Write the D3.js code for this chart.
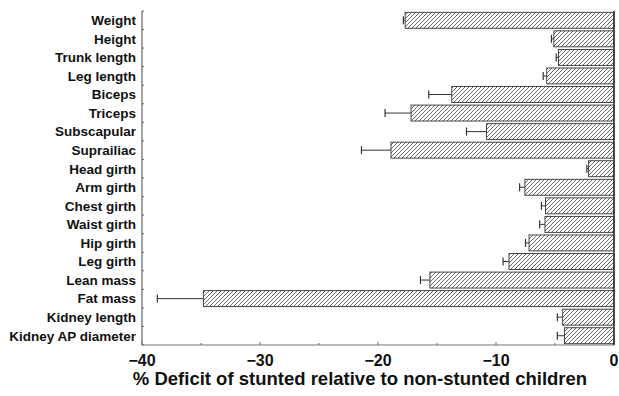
<!DOCTYPE html>
<html>
<head>
<meta charset="utf-8">
<script src="https://cdn.jsdelivr.net/npm/d3@7"></script>
<style>
  body { margin: 0; background: #fff; }
  svg text { font-family: "Liberation Sans", Arial, sans-serif; font-weight: bold; fill: #111; }
</style>
</head>
<body>
<div id="chart"></div>
<script>
var categories = ["Weight", "Height", "Trunk length", "Leg length", "Biceps", "Triceps",
  "Subscapular", "Suprailiac", "Head girth", "Arm girth", "Chest girth", "Waist girth",
  "Hip girth", "Leg girth", "Lean mass", "Fat mass", "Kidney length", "Kidney AP diameter"];
var deficit = [-17.7, -5.1, -4.7, -5.7, -13.75, -17.2, -10.8, -18.9, -2.15, -7.55, -5.8, -5.85,
  -7.2, -8.9, -15.6, -34.8, -4.35, -4.2];
var errorEnd = [-17.85, -5.3, -4.9, -6.0, -15.7, -19.4, -12.5, -21.4, -2.3, -8.0, -6.15, -6.3,
  -7.5, -9.4, -16.4, -38.7, -4.8, -4.8];
var xTicks = [-40, -30, -20, -10, 0];
var xMinorTicks = [-35, -25, -15, -5];
var xTitle = "% Deficit of stunted relative to non-stunted children";

function drawChart(){
  var width = 619, height = 396;
  var left = 142, right = 614, top = 11, bottom = 345;

  var svg = d3.select('#chart').append('svg').attr('width', width).attr('height', height);

  // diagonal hatch
  var defs = svg.append('defs');
  defs.append('pattern').attr('id', 'hatch').attr('patternUnits', 'userSpaceOnUse')
    .attr('width', 4).attr('height', 4)
    .append('path').attr('d', 'M-1,1 l2,-2 M0,4 l4,-4 M3,5 l2,-2')
    .attr('stroke', '#444').attr('stroke-width', 0.8);

  var x = d3.scaleLinear().domain([-40, 0]).range([left, right]);
  var y = d3.scaleBand().domain(categories).range([top, bottom]).paddingInner(0.14).paddingOuter(0.07);

  // left axis line with small ticks at category boundaries
  svg.append('line').attr('x1', left).attr('x2', left).attr('y1', top).attr('y2', bottom)
    .attr('stroke', '#666').attr('stroke-width', 1.2);
  var bounds = d3.range(categories.length + 1).map(function(i){ return top + i * (bottom - top) / categories.length; });
  svg.selectAll('.ytick').data(bounds).enter().append('line').attr('class', 'ytick')
    .attr('x1', left).attr('x2', left + 2).attr('y1', function(d){ return d; }).attr('y2', function(d){ return d; })
    .attr('stroke', '#666');

  // bottom axis
  svg.append('line').attr('x1', left).attr('x2', right).attr('y1', bottom).attr('y2', bottom)
    .attr('stroke', '#777').attr('stroke-width', 1.2);
  svg.selectAll('.xminor').data(xMinorTicks).enter().append('line').attr('class', 'xminor')
    .attr('x1', function(d){ return x(d); }).attr('x2', function(d){ return x(d); })
    .attr('y1', bottom).attr('y2', bottom - 2).attr('stroke', '#666');
  svg.selectAll('.xmajor').data(xTicks).enter().append('line').attr('class', 'xmajor')
    .attr('x1', function(d){ return x(d); }).attr('x2', function(d){ return x(d); })
    .attr('y1', bottom).attr('y2', bottom - 3).attr('stroke', '#666');
  svg.selectAll('.xlabel').data(xTicks).enter().append('text').attr('class', 'xlabel')
    .attr('x', function(d){ return x(d); }).attr('y', 366)
    .attr('text-anchor', 'middle').style('font-size', '16px')
    .text(function(d){ return d < 0 ? '\u2212' + Math.abs(d) : d; });

  // bars
  svg.selectAll('.bar').data(deficit).enter().append('rect').attr('class', 'bar')
    .attr('x', function(d){ return x(d); })
    .attr('y', function(d, i){ return y(categories[i]); })
    .attr('width', function(d){ return x(0) - x(d); })
    .attr('height', y.bandwidth())
    .attr('fill', 'url(#hatch)').attr('stroke', '#333').attr('stroke-width', 0.9);

  // error bars
  var cap = 4;
  svg.selectAll('.err').data(errorEnd).enter().append('line').attr('class', 'err')
    .attr('x1', function(d, i){ return x(deficit[i]); }).attr('x2', function(d){ return x(d); })
    .attr('y1', function(d, i){ return y(categories[i]) + y.bandwidth() / 2; })
    .attr('y2', function(d, i){ return y(categories[i]) + y.bandwidth() / 2; })
    .attr('stroke', '#333').attr('stroke-width', 1);
  svg.selectAll('.cap').data(errorEnd).enter().append('line').attr('class', 'cap')
    .attr('x1', function(d){ return x(d); }).attr('x2', function(d){ return x(d); })
    .attr('y1', function(d, i){ return y(categories[i]) + y.bandwidth() / 2 - cap; })
    .attr('y2', function(d, i){ return y(categories[i]) + y.bandwidth() / 2 + cap; })
    .attr('stroke', '#333').attr('stroke-width', 1.2);

  // zero line
  svg.append('line').attr('x1', x(0)).attr('x2', x(0)).attr('y1', top).attr('y2', bottom)
    .attr('stroke', '#222').attr('stroke-width', 1.4);

  // category labels
  svg.selectAll('.ylabel').data(categories).enter().append('text').attr('class', 'ylabel')
    .attr('x', 136).attr('y', function(d){ return y(d) + y.bandwidth() / 2; })
    .attr('dy', '0.36em').attr('text-anchor', 'end').style('font-size', '13.5px')
    .text(function(d){ return d; });

  svg.append('text').attr('x', 360).attr('y', 385)
    .attr('text-anchor', 'middle').style('font-size', '18.5px').text(xTitle);
}

drawChart();
</script>
</body>
</html>
